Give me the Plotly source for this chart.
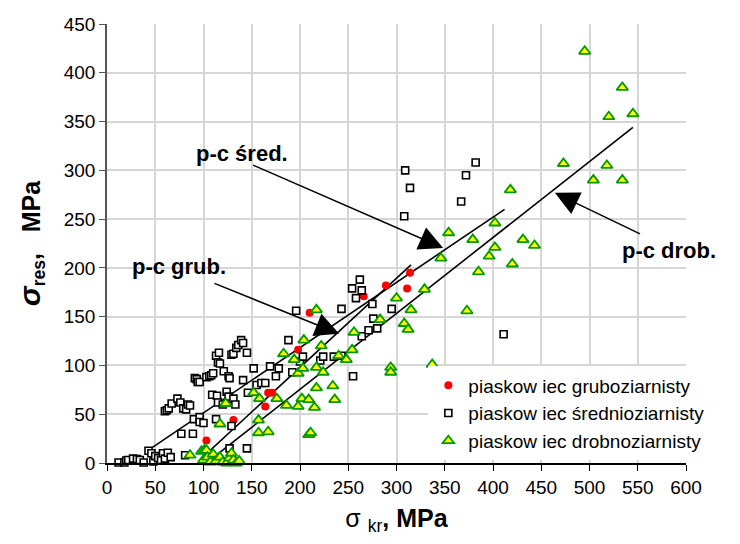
import plotly.graph_objects as go

# sigma_kr [MPa] vs sigma_res [MPa] for three sandstone grain classes
grubo_x = [103, 131, 164, 167, 171, 198, 203, 210, 266, 289, 311, 314]
grubo_y = [23, 44, 58, 72, 72, 116, 108, 154, 171, 182, 179, 195]

sredni_x = [12, 18, 20, 22, 27, 31, 34, 38, 43, 46, 48, 50, 53, 56, 58, 60, 63, 66, 81,
            60, 62, 64, 67, 73, 76, 79, 82, 84, 86,
            77, 89, 90, 96, 96, 100, 113, 129, 127, 145,
            91, 93, 94, 96, 103, 106, 108,
            109, 114, 115, 120, 124, 126, 131, 133, 146,
            110, 113, 115, 117, 116, 121, 126, 127, 129, 131, 134, 136, 139, 141, 141, 145,
            152, 155, 160, 164, 169, 175, 178, 188, 192, 196, 200, 203, 221, 224, 235, 243,
            243, 254, 255, 258, 262, 264, 264, 271, 275, 276, 280, 295, 308, 309, 314,
            367, 372, 382, 411]
sredni_y = [0.5, 0.5, 2.5, 3, 4.5, 4, 3, 0.5, 12.5, 10, 1.5, 7, 5, 3, 10, 4.5, 10.5, 6, 8,
            53, 54, 56, 61, 66, 62, 56, 55, 60, 59,
            30, 30, 45, 47, 42, 41, 45, 38, 15, 15,
            87, 86, 83, 83, 88, 89, 90,
            70, 69, 62, 60, 73, 68, 66, 60, 72,
            92, 110, 103, 102, 113, 94, 89, 87, 111, 112, 118, 121, 126, 123, 85, 113,
            97, 80, 82, 82, 99, 89, 97, 126, 93, 156, 104, 109, 105, 109, 109, 110,
            158, 179, 89, 169, 188, 177, 130, 136, 163, 148, 138, 158, 253, 300, 282,
            268, 295, 308, 132]

drobno_x = [86, 98, 100, 101, 103, 104, 107, 110, 113, 117, 120, 124, 127, 129, 131, 134, 137,
            117, 123, 152, 158, 157, 157, 167, 176, 186, 183, 194, 198, 198, 202, 209, 209,
            203, 204, 217, 217, 222, 224, 215, 211, 217, 234, 236, 240, 248, 254, 256,
            283, 294, 294, 300, 308, 312, 315, 329, 337, 346, 354, 373, 379, 385, 396,
            402, 402, 418, 420, 431, 443, 473, 495, 504, 518, 520, 534, 534, 545]
drobno_y = [8, 12, 3, 13, 13, 6, 1, 9, 2, 6, 1, 0, 5, 10, 3, 0, 2,
            40, 61, 72, 66, 44, 31, 32, 66, 59, 112, 106, 92, 58, 66, 65, 29,
            97, 126, 157, 98, 120, 93, 57, 31, 77, 79, 65, 110, 106, 116, 134,
            147, 98, 93, 169, 143, 137, 157, 178, 101, 210, 236, 156, 229, 196, 212,
            246, 221, 280, 204, 229, 223, 307, 422, 290, 305, 355, 385, 290, 358]

# trend lines (start, end)
line_grub_x, line_grub_y = [96, 315], [3, 203]
line_sred_x, line_sred_y = [41, 412], [12, 260]
line_drob_x, line_drob_y = [103, 545], [0, 344]

x_ticks = list(range(0, 601, 50))
y_ticks = list(range(0, 451, 50))

FONT = "Liberation Sans, Arial, sans-serif"

fig = go.Figure()

for lx, ly in [(line_grub_x, line_grub_y), (line_sred_x, line_sred_y), (line_drob_x, line_drob_y)]:
    fig.add_trace(go.Scatter(x=lx, y=ly, mode="lines", line=dict(color="black", width=1.6),
                             showlegend=False, hoverinfo="skip"))

fig.add_trace(go.Scatter(
    x=grubo_x, y=grubo_y, mode="markers", name="piaskow iec gruboziarnisty",
    marker=dict(symbol="circle", size=8, color="#ff0000", line=dict(width=0)),
    cliponaxis=False))
fig.add_trace(go.Scatter(
    x=sredni_x, y=sredni_y, mode="markers", name="piaskow iec średnioziarnisty",
    marker=dict(symbol="square", size=7, color="white", line=dict(color="black", width=1.6)),
    cliponaxis=False))
fig.add_trace(go.Scatter(
    x=drobno_x, y=drobno_y, mode="markers", name="piaskow iec drobnoziarnisty",
    marker=dict(symbol="triangle-up", size=10, color="#ffff00", line=dict(color="#009900", width=1.8)),
    cliponaxis=False))

# arrow labels pointing at the trend lines
labels = [
    dict(text="p-c grub.", x=74.5, y=201, tip=(240.6, 132.4), tail=(109.8, 184.8)),
    dict(text="p-c śred.", x=139.5, y=317, tip=(348.4, 220.4), tail=(149.9, 306)),
    dict(text="p-c drob.", x=582, y=218, tip=(464.1, 276.9), tail=(553.9, 234.1)),
]
for lab in labels:
    fig.add_annotation(x=lab["x"], y=lab["y"], xref="x", yref="y", text="<b>%s</b>" % lab["text"],
                       showarrow=False, font=dict(family=FONT, size=22, color="black"))
    fig.add_annotation(x=lab["tip"][0], y=lab["tip"][1], ax=lab["tail"][0], ay=lab["tail"][1],
                       xref="x", yref="y", axref="x", ayref="y", text="",
                       showarrow=True, arrowhead=2, arrowsize=3.2, arrowwidth=1.5,
                       arrowcolor="black", standoff=0)

fig.update_layout(
    width=740, height=544,
    margin=dict(l=107, r=54, t=24, b=81),
    paper_bgcolor="white", plot_bgcolor="white",
    font=dict(family=FONT, color="black"),
    legend=dict(x=0.555, y=0.22, xanchor="left", yanchor="top",
                bgcolor="white", font=dict(family=FONT, size=19),
                tracegroupgap=0),
)
fig.update_xaxes(
    range=[0, 600], tickvals=x_ticks, ticktext=[str(v) for v in x_ticks],
    showgrid=True, gridcolor="#d6d6d6", gridwidth=2,
    showline=True, linecolor="black", linewidth=1.5,
    ticks="outside", ticklen=6, tickcolor="black", tickwidth=1,
    tickfont=dict(family=FONT, size=19), zeroline=False,
    title=dict(text="σ <sub>kr</sub><b>,&nbsp;MPa</b>", font=dict(family=FONT, size=25), standoff=13),
)
fig.update_yaxes(
    range=[0, 450], tickvals=y_ticks, ticktext=[str(v) for v in y_ticks],
    showgrid=True, gridcolor="#d6d6d6", gridwidth=2,
    showline=True, linecolor="#555555", linewidth=1.5,
    ticks="outside", ticklen=6, tickcolor="#555555", tickwidth=1,
    tickfont=dict(family=FONT, size=19), zeroline=False,
    title=dict(text="<b><i><span style=\"font-size:30px\">σ</span></i>"
                    "<sub>res</sub>,&nbsp;&nbsp;&nbsp;MPa</b>",
               font=dict(family=FONT, size=25), standoff=16),
)

fig.write_html("out.html")
